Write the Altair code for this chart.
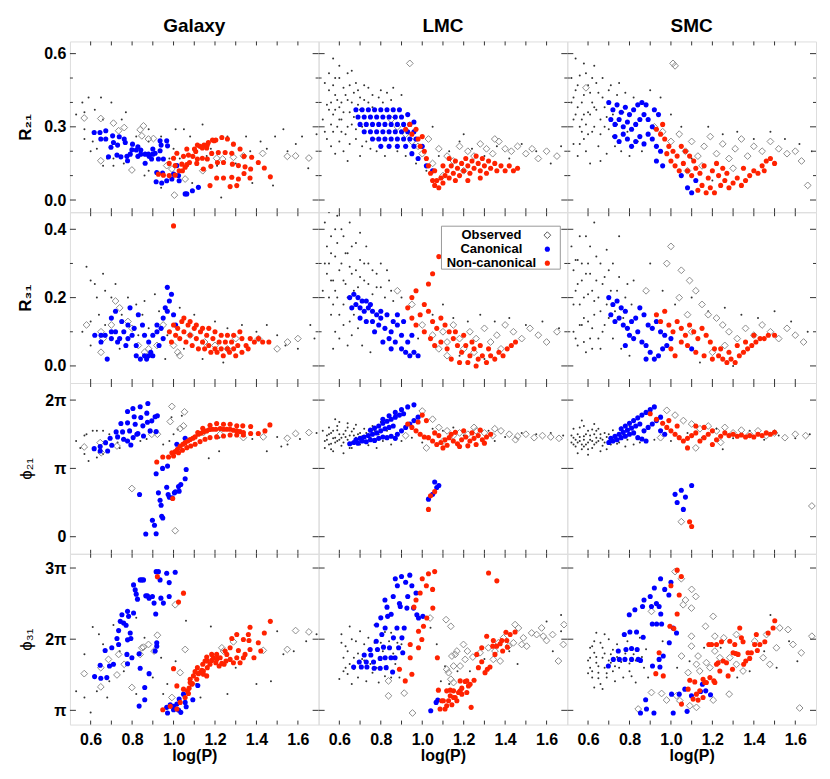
import altair as alt
import pandas as pd

FONT = "Liberation Sans"
W, H = 249, 171
COLS = ["Galaxy", "LMC", "SMC"]
Y_TITLES = ["R₂₁", "R₃₁", "ϕ₂₁", "ϕ₃₁"]
Y_DOMAINS = [[-0.05, 0.65], [-0.05, 0.45], [-0.25, 2.25], [0.8, 3.2]]
Y_MAJOR = [[0, 0.3, 0.6], [0, 0.2, 0.4], [0, 1, 2], [1, 2, 3]]
Y_MINOR = [[0.1, 0.2, 0.4, 0.5], [0.1, 0.3], [], []]
X_DOMAIN = [0.5, 1.7]
X_MAJOR = [0.6, 0.8, 1.0, 1.2, 1.4, 1.6]
X_MINOR = [0.7, 0.9, 1.1, 1.3, 1.5]
LEGEND_LABELS = ["Observed", "Canonical", "Non-canonical"]

# ---------------- Galaxy ----------------
GAL_R21_CAN = [(0.617,0.277),(0.645,0.277),(0.673,0.284),(0.649,0.250),(0.673,0.250),(0.706,0.263),(0.738,0.259),(0.710,0.236),(0.762,0.250),(0.767,0.236),(0.698,0.216),(0.730,0.225),(0.802,0.229),(0.828,0.218),(0.799,0.206),(0.820,0.205),(0.842,0.205),(0.791,0.188),(0.842,0.188),(0.863,0.188),(0.879,0.188),(0.900,0.188),(0.911,0.192),(0.935,0.243),(0.967,0.243),(0.940,0.225),(0.971,0.222),(0.900,0.209),(0.935,0.202),(0.686,0.177),(0.727,0.184),(0.746,0.177),(0.775,0.179),(0.778,0.161),(0.828,0.179),(0.863,0.151),(0.882,0.179),(0.894,0.168),(0.927,0.168),(0.951,0.168),(0.919,0.113),(0.947,0.111),(0.916,0.075),(0.943,0.070),(0.967,0.079),(0.992,0.086),(1.000,0.106),(1.024,0.100),(1.027,0.079),(1.056,0.025),(1.064,0.025),(1.091,0.038),(1.120,0.052),(1.016,0.141)]
GAL_R21_NON = [(1.000,0.171),(1.016,0.192),(1.048,0.179),(1.072,0.184),(1.093,0.179),(1.107,0.199),(1.128,0.220),(1.147,0.225),(1.163,0.226),(1.188,0.246),(1.204,0.246),(1.064,0.209),(1.101,0.209),(1.115,0.225),(1.139,0.213),(1.160,0.213),(1.168,0.236),(1.196,0.243),(1.233,0.256),(1.260,0.250),(1.289,0.229),(1.321,0.209),(0.979,0.150),(1.008,0.141),(1.040,0.147),(1.064,0.145),(1.077,0.154),(1.027,0.120),(1.043,0.120),(1.056,0.134),(0.927,0.106),(0.951,0.102),(0.979,0.100),(1.008,0.102),(1.115,0.168),(1.139,0.171),(1.163,0.168),(1.184,0.191),(1.216,0.195),(1.249,0.195),(1.281,0.192),(1.340,0.179),(1.377,0.175),(1.409,0.154),(1.438,0.131),(1.467,0.095),(1.372,0.127),(1.345,0.136),(1.313,0.141),(1.284,0.147),(1.241,0.154),(1.212,0.154),(1.180,0.138),(1.144,0.127),(1.112,0.150),(1.176,0.059),(1.208,0.090),(1.241,0.090),(1.281,0.093),(1.313,0.086),(1.340,0.109),(1.369,0.090),(1.273,0.055),(1.305,0.059)]
GAL_R21_OBS = [(0.569,0.336),(0.649,0.334),(0.710,0.315),(0.735,0.284),(0.762,0.297),(0.839,0.288),(0.855,0.304),(0.847,0.263),(0.879,0.250),(0.903,0.252),(0.649,0.161),(0.799,0.123),(1.004,0.020),(1.056,0.086),(1.141,0.120),(1.208,0.171),(1.237,0.168),(1.289,0.175),(1.337,0.181),(1.430,0.191),(1.549,0.179),(1.589,0.181),(1.653,0.172),(0.992,0.127),(0.967,0.141)]
GAL_R21_FLD = [(0.56,0.40),(0.59,0.42),(0.65,0.42),(0.70,0.40),(0.53,0.35),(0.57,0.36),(0.62,0.37),(0.66,0.33),(0.77,0.36),(0.57,0.29),(0.57,0.25),(0.61,0.24),(0.63,0.21),(0.68,0.17),(0.71,0.17),(0.75,0.33),(0.82,0.26),(0.88,0.29),(0.88,0.24),(0.94,0.26),(1.00,0.21),(1.01,0.29),(1.05,0.29),(1.03,0.17),(1.14,0.31),(1.16,0.18),(1.21,0.14),(1.26,0.26),(1.30,0.15),(1.35,0.26),(1.37,0.20),(1.42,0.24),(1.45,0.21),(1.49,0.26),(1.53,0.29),(1.55,0.20),(1.59,0.23),(1.62,0.26),(1.65,0.13),(1.69,0.27),(1.48,0.06),(1.23,0.01),(1.09,0.07),(0.94,0.05),(0.86,0.10),(0.76,0.15),(0.71,0.14),(0.66,0.14),(0.60,0.20),(0.88,0.12),(0.98,0.17),(1.18,0.21),(1.08,0.26),(1.38,0.07)]

GAL_R31_CAN = [(0.62,0.09),(0.65,0.09),(0.65,0.07),(0.67,0.09),(0.70,0.10),(0.70,0.08),(0.72,0.10),(0.73,0.07),(0.70,0.14),(0.72,0.16),(0.75,0.13),(0.76,0.10),(0.78,0.12),(0.74,0.08),(0.68,0.02),(0.77,0.06),(0.78,0.08),(0.80,0.09),(0.81,0.11),(0.79,0.17),(0.83,0.15),(0.85,0.12),(0.82,0.03),(0.84,0.02),(0.86,0.03),(0.87,0.02),(0.88,0.03),(0.89,0.04),(0.90,0.03),(0.82,0.06),(0.86,0.09),(0.88,0.07),(0.90,0.09),(0.92,0.12),(0.94,0.11),(0.95,0.14),(0.96,0.17),(0.97,0.23),(0.99,0.21),(0.98,0.19),(0.97,0.16),(1.00,0.15),(1.01,0.12),(0.95,0.08),(0.93,0.06),(0.92,0.10)]
GAL_R31_NON = [(1.00,0.41),(0.98,0.10),(1.00,0.12),(1.02,0.11),(1.04,0.13),(1.05,0.10),(1.07,0.12),(1.08,0.09),(1.10,0.11),(1.11,0.08),(1.13,0.10),(1.14,0.07),(1.16,0.09),(1.17,0.06),(1.19,0.08),(1.20,0.05),(1.22,0.07),(1.23,0.05),(1.25,0.07),(1.26,0.05),(1.28,0.07),(1.29,0.05),(1.31,0.06),(1.33,0.08),(1.35,0.06),(1.37,0.08),(1.39,0.07),(1.41,0.08),(1.43,0.07),(1.46,0.07),(1.03,0.08),(1.06,0.07),(1.09,0.06),(1.12,0.05),(1.15,0.05),(1.18,0.04),(1.21,0.04),(1.24,0.03),(1.27,0.04),(1.30,0.03),(1.33,0.04),(1.36,0.05),(1.05,0.14),(1.08,0.13),(1.11,0.12),(1.14,0.11),(1.17,0.11),(1.20,0.10),(1.23,0.09),(1.26,0.09),(1.29,0.09),(1.32,0.10),(1.01,0.09),(0.99,0.07)]
GAL_R31_OBS = [(0.58,0.12),(0.65,0.10),(0.66,0.08),(0.65,0.04),(0.70,0.12),(0.74,0.17),(0.78,0.13),(0.80,0.11),(0.83,0.06),(0.86,0.04),(0.88,0.05),(0.92,0.06),(0.95,0.12),(1.00,0.06),(1.02,0.04),(1.03,0.03),(1.08,0.09),(1.15,0.07),(1.20,0.06),(1.26,0.05),(1.30,0.08),(1.41,0.08),(1.55,0.07),(1.60,0.08),(1.50,0.05),(0.72,0.19)]
GAL_R31_FLD = [(0.58,0.29),(0.60,0.25),(0.62,0.24),(0.63,0.20),(0.66,0.27),(0.67,0.22),(0.70,0.20),(0.72,0.24),(0.56,0.10),(0.60,0.13),(0.64,0.15),(0.67,0.12),(0.60,0.06),(0.74,0.05),(0.78,0.20),(0.82,0.18),(0.85,0.15),(0.86,0.19),(0.88,0.11),(0.91,0.21),(0.93,0.16),(0.97,0.09),(1.03,0.17),(1.10,0.15),(1.14,0.02),(1.20,0.13),(1.26,0.11),(1.33,0.12),(1.40,0.10),(1.45,0.12),(1.50,0.09),(1.54,0.06),(1.60,0.05),(1.66,0.12),(1.68,0.08),(0.96,0.02),(1.24,0.01),(1.05,0.05),(0.75,0.15),(0.83,0.09)]

GAL_P21_CAN = [(0.617,1.289),(0.646,1.319),(0.672,1.377),(0.682,1.255),(0.646,1.255),(0.694,1.441),(0.702,1.338),(0.723,1.534),(0.730,1.461),(0.746,1.657),(0.754,1.534),(0.778,1.833),(0.778,1.667),(0.778,1.402),(0.788,1.549),(0.804,1.877),(0.810,1.755),(0.815,1.647),(0.839,1.902),(0.842,1.745),(0.852,1.623),(0.871,1.809),(0.874,1.676),(0.876,1.951),(0.887,1.549),(0.895,1.696),(0.911,1.755),(0.916,1.539),(0.922,1.770),(0.805,1.451),(0.823,1.500),(0.855,1.475),(0.759,1.426),(0.794,1.343),(0.828,1.510),(0.916,0.922),(0.947,1.000),(0.971,1.034),(1.061,0.985),(0.836,0.618),(0.927,0.642),(0.935,0.534),(0.940,0.461),(0.967,0.725),(0.974,0.618),(0.980,0.578),(0.993,0.569),(1.004,0.642),(1.009,0.657),(1.027,0.667),(1.024,0.735),(1.035,0.765),(1.056,0.848),(0.898,0.240),(0.908,0.167),(0.866,0.039),(0.916,0.044),(0.943,0.299),(0.948,0.275),(1.056,1.441),(1.016,1.353)]
GAL_P21_NON = [(0.919,1.093),(0.948,1.167),(0.976,1.167),(0.992,1.230),(1.008,1.245),(1.019,1.279),(1.032,1.324),(1.045,1.353),(1.056,1.377),(1.069,1.402),(1.080,1.422),(1.093,1.441),(1.104,1.461),(1.120,1.500),(1.131,1.515),(1.144,1.534),(1.160,1.549),(1.173,1.569),(1.188,1.574),(1.204,1.574),(1.225,1.583),(1.241,1.574),(1.257,1.574),(1.273,1.574),(1.289,1.559),(1.305,1.549),(1.321,1.539),(1.337,1.525),(1.372,1.510),(1.409,1.510),(1.441,1.549),(1.465,1.637),(1.117,1.525),(1.141,1.588),(1.176,1.632),(1.208,1.657),(1.241,1.647),(1.273,1.647),(1.305,1.623),(1.334,1.623),(1.372,1.613),(1.000,1.181),(1.024,1.230),(1.043,1.265),(1.064,1.304),(1.083,1.328),(1.104,1.353),(1.128,1.392),(1.152,1.426),(1.176,1.451),(1.208,1.461),(1.241,1.475),(1.273,1.490),(1.305,1.490),(1.337,1.490),(0.996,0.559)]
GAL_P21_OBS = [(0.569,1.314),(0.651,1.230),(0.727,1.328),(0.799,0.706),(0.895,1.500),(0.922,1.500),(0.992,1.907),(0.984,1.686),(1.053,1.828),(1.032,1.583),(1.048,1.623),(1.008,0.088),(1.337,1.451),(1.433,1.461),(1.549,1.441),(1.589,1.510),(1.653,1.525),(1.144,1.525),(1.225,1.500),(0.646,1.377)]
GAL_P21_FLD = [(0.53,1.40),(0.57,1.48),(0.58,1.50),(0.61,1.55),(0.63,1.55),(0.66,1.55),(0.69,1.50),(0.59,1.11),(0.63,1.16),(0.66,1.21),(0.57,1.21),(0.55,1.30),(0.73,1.38),(0.74,1.30),(0.98,1.40),(1.00,1.50),(1.02,1.57),(1.17,1.15),(1.22,1.25),(1.45,1.25),(1.50,1.46),(1.52,1.32),(1.55,1.35),(1.61,1.43),(1.69,1.52),(0.99,1.75),(1.04,1.77),(0.84,1.40),(0.87,1.43),(0.95,1.35),(1.22,1.45),(1.30,1.48),(1.38,1.43)]

GAL_P31_CAN = [(0.619,1.474),(0.646,1.633),(0.649,1.451),(0.678,1.460),(0.670,1.842),(0.702,1.879),(0.691,1.623),(0.710,1.647),(0.727,2.009),(0.735,1.926),(0.735,2.121),(0.743,2.251),(0.751,2.344),(0.759,2.228),(0.771,2.195),(0.778,2.391),(0.783,2.321),(0.791,2.088),(0.794,2.009),(0.799,1.740),(0.807,2.367),(0.778,1.656),(0.775,1.786),(0.778,1.991),(0.807,2.763),(0.815,2.693),(0.820,2.633),(0.826,2.563),(0.839,2.833),(0.847,2.833),(0.855,2.833),(0.866,2.609),(0.874,2.609),(0.882,2.577),(0.898,2.600),(0.906,2.507),(0.919,1.902),(0.919,1.949),(0.914,2.353),(0.834,1.795),(0.839,1.591),(0.861,1.321),(0.861,1.149),(0.834,1.060),(0.882,1.516),(0.911,1.833),(0.916,2.949),(0.927,2.949),(0.935,2.833),(0.967,2.926),(0.979,2.795),(1.008,2.940),(0.939,2.577),(0.951,2.507),(0.979,2.600),(0.967,1.042),(0.971,0.963),(1.000,1.056),(1.000,1.009),(1.027,1.158),(1.035,0.972),(1.056,1.112),(1.061,1.051),(1.024,1.005),(1.117,1.349),(1.093,1.149),(1.048,1.228),(0.984,1.079),(1.016,1.088)]
GAL_P31_NON = [(0.922,2.879),(1.024,2.521),(1.048,2.647),(1.000,1.586),(1.016,1.344),(1.048,1.298),(1.067,1.274),(0.948,1.009),(0.984,1.056),(1.016,1.019),(1.032,1.112),(1.056,1.181),(1.072,1.237),(1.080,1.391),(1.091,1.377),(1.080,1.437),(1.096,1.484),(1.112,1.437),(1.120,1.516),(1.128,1.530),(1.136,1.563),(1.144,1.553),(1.152,1.693),(1.163,1.600),(1.176,1.647),(1.184,1.702),(1.192,1.740),(1.204,1.670),(1.208,1.716),(1.220,1.623),(1.233,1.660),(1.244,1.647),(1.253,1.693),(1.273,1.716),(1.289,1.670),(1.305,1.740),(1.321,1.670),(1.337,1.740),(1.345,1.786),(1.369,1.856),(1.364,1.981),(1.369,2.167),(1.361,2.065),(1.337,1.995),(1.305,2.065),(1.313,1.842),(1.281,2.009),(1.273,1.879),(1.257,1.786),(1.249,1.833),(1.225,1.740),(1.208,1.786),(1.184,1.786),(1.160,1.749),(1.141,1.647),(1.115,1.600),(1.104,1.544),(1.388,1.740),(1.409,1.949),(1.421,1.833),(1.438,2.088),(1.467,2.251),(1.088,1.367),(1.075,1.312),(1.144,1.507),(1.160,1.484),(1.163,1.693)]
GAL_P31_OBS = [(0.569,1.516),(0.649,1.600),(0.649,1.330),(0.686,1.716),(0.727,1.498),(0.735,1.786),(0.762,1.647),(0.799,1.321),(0.839,1.786),(0.847,1.879),(0.855,1.888),(0.879,1.926),(0.906,1.833),(0.922,2.056),(0.992,1.181),(1.008,2.484),(1.032,1.530),(1.056,1.856),(1.233,1.879),(1.289,1.963),(1.433,1.842),(1.549,1.856),(1.589,2.121),(1.653,2.102),(1.241,1.833)]
GAL_P31_FLD = [(0.53,1.27),(0.57,1.18),(0.60,0.97),(0.57,1.79),(0.61,2.17),(0.64,2.07),(0.66,1.93),(0.69,1.41),(0.71,2.20),(0.74,1.83),(0.76,1.55),(0.82,2.30),(0.86,2.02),(0.90,1.46),(0.94,1.74),(0.97,1.37),(1.01,1.69),(1.06,2.26),(1.11,1.37),(1.18,2.18),(1.21,1.79),(1.26,1.23),(1.30,1.60),(1.40,1.37),(1.47,1.41),(1.50,2.11),(1.53,1.79),(1.58,1.83),(1.69,2.07),(1.64,1.97),(0.95,1.23),(1.13,1.18),(0.63,1.27),(0.68,1.18),(0.82,1.23)]

# ---------------- LMC ----------------
LMC_R21_CAN = [(0.68,0.37),(0.71,0.37),(0.74,0.37),(0.77,0.37),(0.80,0.37),(0.83,0.37),(0.86,0.37),(0.89,0.37),(0.69,0.34),(0.72,0.34),(0.75,0.34),(0.78,0.34),(0.81,0.34),(0.84,0.34),(0.87,0.34),(0.90,0.34),(0.93,0.35),(0.70,0.31),(0.73,0.31),(0.76,0.31),(0.79,0.31),(0.82,0.31),(0.85,0.31),(0.88,0.31),(0.91,0.31),(0.94,0.31),(0.96,0.32),(0.72,0.28),(0.75,0.28),(0.78,0.28),(0.81,0.28),(0.84,0.28),(0.87,0.28),(0.90,0.28),(0.93,0.28),(0.96,0.28),(0.76,0.25),(0.79,0.25),(0.82,0.25),(0.85,0.25),(0.88,0.25),(0.91,0.25),(0.94,0.25),(0.97,0.25),(0.80,0.22),(0.84,0.22),(0.88,0.22),(0.92,0.22),(0.96,0.22),(1.00,0.22),(0.95,0.19),(0.98,0.17),(1.02,0.14),(1.05,0.12)]
LMC_R21_NON = [(0.92,0.29),(0.94,0.31),(0.95,0.27),(0.97,0.29),(0.98,0.25),(1.00,0.26),(0.99,0.22),(1.01,0.20),(1.02,0.17),(1.03,0.14),(1.04,0.11),(1.05,0.08),(1.06,0.06),(1.07,0.08),(1.08,0.05),(1.09,0.09),(1.10,0.07),(1.11,0.10),(1.12,0.12),(1.13,0.09),(1.14,0.14),(1.15,0.11),(1.16,0.16),(1.17,0.13),(1.18,0.10),(1.19,0.15),(1.20,0.12),(1.21,0.17),(1.22,0.14),(1.23,0.11),(1.24,0.16),(1.25,0.13),(1.26,0.18),(1.27,0.15),(1.28,0.12),(1.29,0.17),(1.30,0.14),(1.31,0.11),(1.32,0.16),(1.33,0.13),(1.35,0.15),(1.36,0.12),(1.38,0.14),(1.40,0.12),(1.42,0.14),(1.44,0.12),(1.46,0.13),(1.10,0.14),(1.13,0.17),(1.06,0.12),(1.16,0.08),(1.22,0.08),(1.28,0.09)]
LMC_R21_OBS = [(0.94,0.56),(0.85,0.33),(0.88,0.30),(0.92,0.27),(0.95,0.24),(0.98,0.22),(1.00,0.19),(1.03,0.25),(1.08,0.21),(1.12,0.18),(1.15,0.16),(1.18,0.22),(1.22,0.20),(1.25,0.18),(1.28,0.23),(1.31,0.21),(1.34,0.19),(1.37,0.24),(1.40,0.21),(1.43,0.20),(1.46,0.22),(1.50,0.19),(1.53,0.21),(1.56,0.17),(1.60,0.20),(1.65,0.18),(1.20,0.12),(1.10,0.10),(1.05,0.15),(1.35,0.25)]
LMC_R21_FLD = [(0.53,0.48),(0.55,0.45),(0.56,0.40),(0.57,0.35),(0.58,0.43),(0.59,0.30),(0.60,0.38),(0.61,0.33),(0.62,0.46),(0.63,0.27),(0.64,0.41),(0.65,0.36),(0.66,0.31),(0.67,0.44),(0.68,0.25),(0.69,0.39),(0.70,0.42),(0.71,0.22),(0.72,0.47),(0.74,0.40),(0.76,0.43),(0.78,0.20),(0.80,0.45),(0.82,0.18),(0.85,0.41),(0.88,0.20),(0.54,0.25),(0.56,0.22),(0.58,0.19),(0.60,0.24),(0.62,0.20),(0.55,0.52),(0.60,0.50),(0.57,0.28),(0.65,0.23),(0.70,0.18),(0.75,0.21),(0.92,0.18),(0.97,0.15),(1.02,0.12),(1.08,0.18),(1.13,0.20),(1.18,0.24),(1.24,0.21),(1.30,0.18),(1.36,0.22),(1.42,0.17),(1.48,0.23),(1.55,0.20),(1.62,0.15),(1.67,0.22),(1.05,0.30),(1.20,0.27),(0.66,0.53),(0.52,0.33),(0.64,0.16),
               (0.54,0.39),(0.56,0.31),(0.57,0.47),(0.58,0.37),(0.59,0.41),(0.60,0.33),(0.61,0.28),(0.62,0.36),(0.63,0.43),(0.64,0.30),(0.65,0.47),(0.66,0.40),(0.67,0.34),(0.68,0.29),(0.69,0.45),(0.70,0.37),(0.71,0.30),(0.72,0.41),(0.73,0.24),(0.74,0.46),(0.76,0.38),(0.77,0.25),(0.79,0.42),(0.81,0.40),(0.83,0.44),(0.86,0.46),(0.53,0.28),(0.55,0.37),(0.58,0.50),(0.61,0.40),(0.64,0.52),(0.68,0.48),(0.90,0.43),(0.60,0.55),(0.57,0.58)]

LMC_R31_CAN = [(0.65,0.20),(0.67,0.21),(0.69,0.20),(0.71,0.19),(0.73,0.19),(0.75,0.18),(0.66,0.17),(0.68,0.18),(0.70,0.17),(0.72,0.16),(0.74,0.17),(0.76,0.16),(0.78,0.15),(0.80,0.14),(0.70,0.14),(0.73,0.13),(0.76,0.13),(0.79,0.12),(0.82,0.11),(0.85,0.10),(0.80,0.16),(0.83,0.15),(0.86,0.13),(0.88,0.12),(0.90,0.09),(0.84,0.08),(0.87,0.07),(0.90,0.05),(0.92,0.04),(0.94,0.03),(0.96,0.04),(0.98,0.03),(0.93,0.07),(0.95,0.09),(0.88,0.15),(0.91,0.13),(0.77,0.10),(0.81,0.07),(0.85,0.05)]
LMC_R31_NON = [(1.08,0.32),(1.05,0.27),(1.03,0.24),(0.97,0.22),(0.95,0.20),(0.93,0.17),(0.95,0.14),(0.97,0.12),(0.99,0.15),(1.01,0.18),(1.03,0.16),(1.05,0.13),(1.07,0.11),(1.09,0.14),(1.11,0.12),(1.13,0.10),(1.01,0.10),(1.04,0.08),(1.06,0.06),(1.09,0.07),(1.12,0.05),(1.15,0.08),(1.17,0.06),(1.19,0.04),(1.21,0.06),(1.23,0.03),(1.25,0.05),(1.27,0.02),(1.29,0.03),(1.31,0.01),(1.33,0.03),(1.35,0.02),(1.37,0.04),(1.39,0.03),(1.41,0.05),(1.43,0.06),(1.45,0.07),(1.14,0.02),(1.18,0.01),(1.22,0.01),(1.26,0.00),(1.16,0.10),(1.20,0.09),(1.24,0.07),(1.28,0.06),(1.32,0.05)]
LMC_R31_OBS = [(0.88,0.22),(0.95,0.18),(1.00,0.12),(1.05,0.09),(1.08,0.05),(1.10,0.10),(1.12,0.07),(1.15,0.12),(1.18,0.08),(1.20,0.05),(1.23,0.10),(1.26,0.08),(1.30,0.11),(1.33,0.07),(1.36,0.09),(1.40,0.12),(1.44,0.10),(1.48,0.08),(1.52,0.11),(1.56,0.09),(1.60,0.07),(1.65,0.10),(1.12,0.03),(1.25,0.04),(1.38,0.05)]
LMC_R31_FLD = [(0.53,0.42),(0.54,0.35),(0.55,0.30),(0.56,0.38),(0.57,0.25),(0.58,0.32),(0.59,0.20),(0.60,0.28),(0.61,0.40),(0.62,0.18),(0.63,0.24),(0.64,0.33),(0.65,0.13),(0.66,0.27),(0.67,0.22),(0.68,0.36),(0.69,0.11),(0.70,0.26),(0.72,0.30),(0.74,0.24),(0.76,0.21),(0.78,0.27),(0.80,0.23),(0.82,0.20),(0.84,0.25),(0.86,0.19),(0.56,0.15),(0.58,0.10),(0.60,0.08),(0.62,0.12),(0.64,0.06),(0.66,0.09),(0.55,0.45),(0.59,0.44),(0.71,0.06),(0.75,0.04),(0.90,0.20),(0.98,0.08),(1.05,0.15),(1.10,0.18),(1.15,0.14),(1.22,0.13),(1.28,0.15),(1.35,0.13),(1.42,0.14),(1.50,0.12),(1.58,0.13),(1.66,0.11),(1.18,0.03),(1.30,0.02),(0.52,0.22),(0.57,0.05),
               (0.54,0.27),(0.55,0.20),(0.56,0.33),(0.57,0.18),(0.58,0.22),(0.59,0.36),(0.60,0.15),(0.61,0.30),(0.62,0.25),(0.63,0.33),(0.64,0.20),(0.65,0.29),(0.66,0.35),(0.67,0.15),(0.68,0.28),(0.69,0.23),(0.70,0.31),(0.71,0.19),(0.72,0.25),(0.73,0.35),(0.74,0.30),(0.76,0.28),(0.78,0.23),(0.80,0.30),(0.83,0.28),(0.85,0.22),(0.62,0.38),(0.65,0.42),(0.58,0.40),(0.70,0.39),(0.53,0.30),(0.56,0.25)]

LMC_P21_CAN = [(0.65,1.36),(0.67,1.38),(0.69,1.37),(0.71,1.40),(0.73,1.39),(0.75,1.42),(0.77,1.41),(0.79,1.44),(0.81,1.46),(0.83,1.45),(0.68,1.42),(0.70,1.44),(0.72,1.46),(0.74,1.48),(0.76,1.50),(0.78,1.52),(0.80,1.55),(0.82,1.58),(0.84,1.60),(0.86,1.62),(0.75,1.56),(0.77,1.59),(0.79,1.62),(0.81,1.66),(0.83,1.69),(0.85,1.72),(0.87,1.75),(0.89,1.78),(0.91,1.80),(0.81,1.72),(0.84,1.77),(0.87,1.82),(0.90,1.86),(0.93,1.90),(0.96,1.93),(0.88,1.50),(0.90,1.55),(0.92,1.60),(0.94,1.65),(0.96,1.70),(0.98,1.75),(0.85,1.47),(0.87,1.44),(1.06,0.80),(1.07,0.72),(1.05,0.62),(1.03,0.55),(1.08,0.75)]
LMC_P21_NON = [(0.93,1.65),(0.95,1.60),(0.97,1.55),(0.99,1.50),(1.01,1.46),(1.03,1.45),(1.05,1.40),(1.00,1.78),(1.02,1.70),(0.98,1.68),(1.07,1.35),(1.09,1.38),(1.11,1.42),(1.13,1.45),(1.15,1.40),(1.17,1.36),(1.19,1.42),(1.21,1.46),(1.23,1.40),(1.25,1.44),(1.27,1.48),(1.29,1.42),(1.31,1.46),(1.33,1.50),(1.10,1.30),(1.12,1.34),(1.14,1.50),(1.16,1.53),(1.18,1.32),(1.20,1.55),(1.22,1.33),(1.24,1.52),(1.26,1.35),(1.28,1.56),(1.30,1.37),(1.08,1.48),(1.06,1.52),(1.03,0.40),(1.04,0.60),(1.06,0.66)]
LMC_P21_OBS = [(1.00,1.84),(1.02,1.30),(1.05,1.72),(1.08,1.60),(1.12,1.55),(1.15,1.48),(1.18,1.52),(1.22,1.50),(1.26,1.55),(1.30,1.52),(1.34,1.48),(1.38,1.55),(1.42,1.50),(1.46,1.47),(1.50,1.50),(1.54,1.45),(1.58,1.48),(1.62,1.46),(1.66,1.44),(1.25,1.60),(1.35,1.58),(1.45,1.42),(1.10,1.40),(0.92,1.48)]
LMC_P21_FLD = [(0.53,1.40),(0.54,1.48),(0.55,1.35),(0.56,1.52),(0.57,1.44),(0.58,1.38),(0.59,1.56),(0.60,1.42),(0.61,1.33),(0.62,1.50),(0.63,1.46),(0.64,1.60),(0.65,1.30),(0.66,1.54),(0.67,1.48),(0.68,1.64),(0.70,1.52),(0.72,1.58),(0.74,1.34),(0.76,1.62),(0.78,1.30),(0.80,1.68),(0.55,1.60),(0.57,1.25),(0.60,1.68),(0.62,1.22),(0.52,1.55),(0.58,1.72),(0.90,1.40),(0.95,1.45),(1.00,1.38),(1.05,1.58),(1.10,1.55),(1.15,1.60),(1.20,1.48),(1.25,1.45),(1.32,1.55),(1.40,1.46),(1.48,1.52),(1.55,1.50),(1.62,1.52),(1.68,1.48),(1.35,1.40),(0.85,1.35),
               (0.54,1.42),(0.55,1.50),(0.56,1.36),(0.57,1.55),(0.58,1.45),(0.59,1.40),(0.60,1.50),(0.61,1.45),(0.62,1.38),(0.63,1.55),(0.64,1.42),(0.65,1.48),(0.66,1.38),(0.67,1.58),(0.68,1.45),(0.69,1.50),(0.70,1.35),(0.71,1.47),(0.72,1.40),(0.73,1.52),(0.75,1.45),(0.77,1.55),(0.79,1.50),(0.81,1.40),(0.83,1.55),(0.53,1.30),(0.56,1.28),(0.59,1.62),(0.64,1.66),(0.66,1.30)]

LMC_P31_CAN = [(0.669,1.609),(0.696,1.679),(0.706,1.609),(0.720,1.777),(0.733,1.609),(0.730,1.679),(0.749,1.856),(0.752,1.777),(0.765,1.679),(0.768,1.591),(0.778,1.972),(0.784,1.856),(0.797,1.730),(0.797,1.591),(0.805,2.065),(0.813,1.888),(0.821,1.740),(0.826,1.600),(0.821,2.158),(0.842,1.879),(0.849,1.740),(0.857,1.540),(0.833,2.321),(0.861,2.019),(0.869,1.740),(0.878,2.158),(0.886,1.879),(0.894,2.460),(0.902,2.019),(0.906,1.809),(0.913,2.158),(0.926,2.437),(0.958,2.437),(0.974,2.344),(0.982,2.298),(1.003,2.321),(1.041,0.995),(1.067,1.112),(1.075,1.144),(0.80,2.30),(0.83,2.45),(0.86,2.60),(0.88,2.75),(0.90,2.88),(0.92,2.80),(0.95,2.75),(0.97,2.65),(0.85,2.35),(0.89,2.50),(0.93,2.60),(0.78,2.20),(0.94,2.90),(0.82,2.55),(0.87,2.85)]
LMC_P31_NON = [(0.890,1.577),(0.918,1.414),(0.942,1.926),(0.942,1.740),(0.950,1.507),(0.982,1.879),(0.982,2.112),(0.998,1.995),(1.006,2.181),(1.022,2.298),(1.051,2.437),(1.073,1.740),(1.078,1.284),(1.086,1.019),(1.102,1.135),(1.110,1.019),(1.118,1.065),(1.127,1.135),(1.135,1.284),(1.135,1.205),(1.143,1.079),(1.151,1.181),(1.159,1.181),(1.167,1.135),(1.175,1.251),(1.183,1.274),(1.191,1.312),(1.207,1.405),(1.215,1.251),(1.223,1.344),(1.231,1.367),(1.236,1.042),(1.250,1.423),(1.263,1.786),(1.271,1.600),(1.287,1.879),(1.287,1.684),(1.303,1.530),(1.314,1.577),(1.327,1.609),(1.311,2.042),(1.340,1.902),(1.351,1.786),(1.343,1.981),(1.359,1.902),(1.376,1.935),(1.384,1.981),(1.388,1.833),(1.404,2.098),(1.408,1.981),(1.411,1.888),(1.424,2.065),(1.448,2.102),(1.151,1.274),(1.183,1.414),(1.118,1.274),(1.094,1.135),(1.191,1.228),(1.215,1.414),(1.00,2.85),(1.03,2.92),(1.06,2.95),(1.02,2.75),(0.99,2.65),(0.97,2.55),(1.05,2.70),(1.32,2.93),(1.36,2.82),(0.96,2.45)]
LMC_P31_OBS = [(0.837,1.414),(0.837,1.205),(0.913,1.242),(0.953,0.963),(1.115,2.274),(1.138,2.181),(1.038,2.298),(1.118,1.577),(1.127,1.530),(1.138,1.437),(1.151,1.623),(1.143,1.763),(1.159,1.786),(1.167,1.833),(1.199,1.926),(1.218,1.833),(1.244,1.749),(1.279,1.809),(1.319,1.879),(1.351,1.833),(1.367,1.949),(1.392,2.019),(1.416,1.902),(1.448,2.205),(1.464,2.158),(1.488,2.019),(1.504,1.902),(1.528,2.088),(1.552,2.065),(1.576,2.158),(1.584,2.042),(1.600,1.981),(1.629,2.065),(1.657,1.693),(1.684,2.205),(1.681,1.926),(1.151,1.391),(1.183,1.623),(1.207,1.716),(1.343,1.716),(1.376,1.693),(1.440,1.949),(1.480,1.926)]
LMC_P31_FLD = [(0.60,1.44),(0.61,2.07),(0.63,1.60),(0.64,1.83),(0.65,2.18),(0.66,1.37),(0.68,1.97),(0.69,1.46),(0.70,2.11),(0.72,1.93),(0.73,1.41),(0.74,2.02),(0.76,1.53),(0.77,2.20),(0.79,1.39),(0.81,1.83),(0.82,1.48),(0.84,1.97),(0.85,2.09),(0.87,1.65),(0.89,1.46),(0.90,1.93),(0.62,1.74),(0.67,1.74),(0.64,1.51),(0.71,1.72),(0.80,1.95),(0.85,1.46),(1.09,1.41),(1.11,1.62),(1.13,1.37),(1.17,1.55),(1.23,1.55),(1.30,1.72),(1.42,1.83),(1.46,1.65),(1.60,2.25),(1.63,1.83),(1.67,2.34),(1.67,2.11),(1.04,2.16),(1.07,1.93),
               (0.62,1.55),(0.63,1.90),(0.65,1.65),(0.66,2.00),(0.67,1.58),(0.69,1.80),(0.70,1.62),(0.72,1.70),(0.74,1.85),(0.75,1.65),(0.77,1.95),(0.78,1.60),(0.80,1.72),(0.82,2.10),(0.83,1.62),(0.86,1.80),(0.88,1.95),(0.61,1.95)]

# ---------------- SMC ----------------
SMC_R21_CAN = [(0.70,0.40),(0.72,0.37),(0.74,0.39),(0.76,0.36),(0.78,0.38),(0.80,0.35),(0.82,0.37),(0.84,0.39),(0.86,0.40),(0.88,0.39),(0.71,0.33),(0.73,0.31),(0.75,0.33),(0.77,0.30),(0.79,0.32),(0.81,0.29),(0.83,0.31),(0.85,0.33),(0.87,0.35),(0.89,0.33),(0.91,0.30),(0.73,0.26),(0.75,0.24),(0.77,0.27),(0.79,0.25),(0.81,0.22),(0.83,0.24),(0.85,0.26),(0.87,0.23),(0.89,0.27),(0.91,0.25),(0.93,0.22),(0.95,0.20),(0.92,0.37),(0.94,0.35),(0.93,0.16),(0.96,0.14),(1.08,0.05),(1.10,0.03),(1.05,0.10),(1.12,0.08)]
SMC_R21_NON = [(0.93,0.29),(0.95,0.27),(0.97,0.25),(0.99,0.22),(1.01,0.20),(1.03,0.18),(0.96,0.31),(0.98,0.19),(1.00,0.16),(1.02,0.14),(1.04,0.12),(1.06,0.15),(1.08,0.12),(1.10,0.10),(1.12,0.13),(1.14,0.11),(1.16,0.14),(1.18,0.09),(1.20,0.12),(1.22,0.15),(1.24,0.06),(1.26,0.08),(1.28,0.05),(1.30,0.07),(1.32,0.09),(1.34,0.06),(1.36,0.08),(1.38,0.10),(1.40,0.12),(1.42,0.11),(1.44,0.14),(1.46,0.16),(1.48,0.17),(1.50,0.15),(1.05,0.22),(1.07,0.20),(1.09,0.18),(1.11,0.16),(1.13,0.04),(1.15,0.06),(1.17,0.03),(1.19,0.05),(1.21,0.03),(1.23,0.10),(1.25,0.13),(1.27,0.11),(1.35,0.13),(1.45,0.12)]
SMC_R21_OBS = [(1.01,0.56),(1.02,0.55),(0.59,0.46),(0.92,0.30),(0.96,0.28),(1.00,0.24),(1.04,0.27),(1.07,0.20),(1.10,0.24),(1.13,0.18),(1.16,0.22),(1.19,0.26),(1.22,0.19),(1.25,0.23),(1.28,0.17),(1.31,0.21),(1.34,0.25),(1.37,0.18),(1.40,0.22),(1.44,0.20),(1.48,0.24),(1.52,0.21),(1.56,0.19),(1.60,0.20),(1.63,0.16),(1.66,0.06),(1.08,0.12),(1.15,0.14),(1.30,0.13)]
SMC_R21_FLD = [(0.52,0.50),(0.53,0.42),(0.54,0.35),(0.55,0.47),(0.56,0.30),(0.57,0.40),(0.58,0.25),(0.59,0.52),(0.60,0.36),(0.61,0.44),(0.62,0.28),(0.63,0.38),(0.64,0.48),(0.65,0.22),(0.66,0.33),(0.67,0.42),(0.68,0.30),(0.70,0.45),(0.72,0.26),(0.74,0.43),(0.76,0.20),(0.78,0.44),(0.80,0.18),(0.53,0.23),(0.55,0.18),(0.57,0.33),(0.59,0.20),(0.61,0.15),(0.63,0.55),(0.66,0.16),(0.69,0.19),(0.86,0.20),(0.90,0.45),(0.95,0.42),(1.00,0.35),(1.05,0.30),(1.10,0.17),(1.18,0.30),(1.25,0.27),(1.32,0.28),(1.40,0.25),(1.48,0.28),(1.55,0.25),(1.62,0.23),(1.68,0.20),(1.20,0.08),(0.54,0.58),(0.58,0.56),
               (0.53,0.33),(0.54,0.45),(0.55,0.38),(0.56,0.51),(0.57,0.28),(0.58,0.43),(0.59,0.31),(0.60,0.47),(0.61,0.35),(0.62,0.40),(0.63,0.30),(0.64,0.37),(0.65,0.44),(0.66,0.27),(0.67,0.50),(0.68,0.38),(0.69,0.34),(0.70,0.29),(0.71,0.47),(0.72,0.35),(0.73,0.22),(0.74,0.31),(0.75,0.48),(0.77,0.36),(0.79,0.28),(0.82,0.42),(0.84,0.24),(0.56,0.23),(0.60,0.27),(0.62,0.50),(0.52,0.40),(0.58,0.35)]

SMC_R31_CAN = [(0.70,0.20),(0.72,0.18),(0.74,0.19),(0.76,0.17),(0.78,0.16),(0.71,0.15),(0.73,0.13),(0.75,0.14),(0.77,0.12),(0.79,0.11),(0.81,0.13),(0.83,0.14),(0.80,0.09),(0.82,0.08),(0.84,0.10),(0.86,0.07),(0.88,0.06),(0.85,0.17),(0.87,0.15),(0.89,0.12),(0.91,0.11),(0.93,0.13),(0.95,0.10),(0.97,0.09),(0.90,0.04),(0.92,0.02),(0.94,0.03),(0.96,0.05),(0.98,0.06),(0.88,0.02),(0.78,0.06),(1.00,0.08),(1.10,0.05)]
SMC_R31_NON = [(0.93,0.15),(0.95,0.13),(0.97,0.16),(0.99,0.12),(1.01,0.10),(1.03,0.13),(1.05,0.11),(1.07,0.09),(1.09,0.12),(1.11,0.10),(1.13,0.08),(1.15,0.11),(1.17,0.09),(1.19,0.07),(1.21,0.05),(1.23,0.03),(1.25,0.02),(1.27,0.01),(1.29,0.02),(1.31,0.01),(1.33,0.03),(1.35,0.04),(1.37,0.05),(1.39,0.06),(1.41,0.07),(1.43,0.08),(1.45,0.08),(1.47,0.09),(1.50,0.09),(1.12,0.04),(1.16,0.03),(1.20,0.02),(1.24,0.05),(1.28,0.04),(1.32,0.06),(1.36,0.07),(1.40,0.09),(1.08,0.06),(1.05,0.07),(1.00,0.05),(1.02,0.03)]
SMC_R31_OBS = [(0.98,0.30),(1.05,0.28),(1.09,0.25),(1.12,0.22),(1.04,0.20),(1.15,0.18),(1.18,0.15),(1.22,0.14),(1.25,0.12),(1.10,0.10),(1.28,0.10),(1.32,0.08),(1.36,0.11),(1.40,0.09),(1.44,0.12),(1.48,0.10),(1.52,0.08),(1.56,0.11),(1.60,0.09),(1.64,0.07),(1.20,0.04),(1.26,0.06),(1.08,0.15),(0.88,0.22),(1.00,0.35)]
SMC_R31_FLD = [(0.52,0.35),(0.53,0.28),(0.54,0.22),(0.55,0.31),(0.56,0.18),(0.57,0.25),(0.58,0.14),(0.59,0.38),(0.60,0.21),(0.61,0.27),(0.62,0.11),(0.63,0.19),(0.64,0.32),(0.65,0.08),(0.66,0.16),(0.67,0.24),(0.68,0.12),(0.70,0.28),(0.72,0.08),(0.74,0.22),(0.76,0.05),(0.78,0.20),(0.80,0.03),(0.53,0.10),(0.55,0.06),(0.57,0.12),(0.59,0.04),(0.61,0.08),(0.63,0.42),(0.60,0.30),(0.69,0.34),(0.82,0.25),(0.90,0.30),(0.96,0.22),(1.02,0.18),(1.10,0.20),(1.18,0.16),(1.26,0.17),(1.34,0.15),(1.42,0.14),(1.50,0.16),(1.58,0.13),(1.66,0.10),(1.14,0.01),(1.30,0.00),(0.75,0.38),
               (0.53,0.18),(0.54,0.31),(0.55,0.24),(0.56,0.12),(0.57,0.30),(0.58,0.20),(0.59,0.27),(0.60,0.13),(0.61,0.35),(0.62,0.22),(0.63,0.15),(0.64,0.25),(0.65,0.20),(0.66,0.30),(0.67,0.10),(0.68,0.26),(0.69,0.18),(0.70,0.14),(0.71,0.22),(0.72,0.30),(0.73,0.16),(0.75,0.26),(0.77,0.14),(0.79,0.24),(0.81,0.18),(0.54,0.08),(0.58,0.07),(0.62,0.05),(0.66,0.05),(0.56,0.38)]

SMC_P21_CAN = [(0.70,1.38),(0.72,1.40),(0.74,1.42),(0.76,1.45),(0.78,1.47),(0.80,1.50),(0.82,1.52),(0.71,1.44),(0.73,1.47),(0.75,1.50),(0.77,1.53),(0.79,1.56),(0.81,1.59),(0.83,1.62),(0.85,1.65),(0.76,1.58),(0.78,1.62),(0.80,1.66),(0.82,1.70),(0.84,1.74),(0.86,1.78),(0.88,1.82),(0.90,1.86),(0.92,1.90),(0.87,1.55),(0.89,1.60),(0.91,1.65),(0.93,1.70),(0.95,1.75),(0.84,1.45),(0.86,1.43),(0.88,1.40),(0.95,1.55),(0.97,1.50),(1.02,0.62),(1.05,0.68),(1.07,0.58),(1.10,0.75),(1.03,0.50),(1.06,0.40)]
SMC_P21_NON = [(0.90,1.80),(0.93,1.72),(0.96,1.66),(0.98,1.60),(1.00,1.55),(1.02,1.50),(1.04,1.45),(0.99,1.70),(1.03,1.62),(1.06,1.40),(1.08,1.44),(1.10,1.48),(1.12,1.52),(1.14,1.40),(1.16,1.45),(1.18,1.50),(1.20,1.55),(1.22,1.42),(1.24,1.47),(1.26,1.52),(1.28,1.48),(1.30,1.50),(1.32,1.47),(1.34,1.49),(1.36,1.46),(1.38,1.48),(1.40,1.46),(1.42,1.50),(1.44,1.48),(1.46,1.52),(1.48,1.50),(1.50,1.53),(1.12,1.62),(1.16,1.60),(1.20,1.35),(1.08,1.30),(1.09,0.22),(1.10,0.15)]
SMC_P21_OBS = [(0.98,1.85),(1.02,1.78),(1.06,1.70),(1.10,1.65),(1.14,1.58),(1.18,1.62),(1.22,1.55),(1.26,1.60),(1.30,1.52),(1.34,1.56),(1.38,1.50),(1.42,1.55),(1.46,1.48),(1.50,1.52),(1.55,1.45),(1.60,1.50),(1.65,1.48),(1.68,0.45),(1.05,0.22),(1.12,1.30),(1.24,1.38),(0.95,1.45)]
SMC_P21_FLD = [(0.52,1.38),(0.53,1.45),(0.54,1.32),(0.55,1.50),(0.56,1.40),(0.57,1.28),(0.58,1.47),(0.59,1.35),(0.60,1.55),(0.61,1.42),(0.62,1.30),(0.63,1.50),(0.64,1.38),(0.65,1.58),(0.66,1.44),(0.67,1.33),(0.68,1.52),(0.70,1.40),(0.72,1.56),(0.74,1.36),(0.76,1.60),(0.78,1.32),(0.80,1.62),(0.55,1.22),(0.58,1.62),(0.60,1.20),(0.63,1.65),(0.66,1.25),(0.53,1.58),(0.69,1.28),(0.85,1.38),(0.92,1.42),(1.00,1.40),(1.08,1.52),(1.15,1.45),(1.22,1.58),(1.30,1.44),(1.38,1.55),(1.45,1.42),(1.52,1.48),(1.60,1.44),(1.67,1.50),(1.25,1.28),(0.57,1.70),
               (0.53,1.35),(0.54,1.42),(0.55,1.38),(0.56,1.46),(0.57,1.35),(0.58,1.42),(0.59,1.50),(0.60,1.38),(0.61,1.48),(0.62,1.40),(0.63,1.35),(0.64,1.45),(0.65,1.40),(0.66,1.50),(0.67,1.42),(0.68,1.38),(0.69,1.46),(0.70,1.50),(0.71,1.35),(0.73,1.44),(0.75,1.38),(0.77,1.50),(0.79,1.42),(0.82,1.35),(0.56,1.60),(0.60,1.28),(0.64,1.55),(0.52,1.48),(0.58,1.32),(0.62,1.57)]

SMC_P31_CAN = [(0.799,2.344),(0.826,2.414),(0.863,2.460),(0.906,2.460),(0.943,2.460),(0.910,2.214),(0.931,2.214),(0.951,2.353),(0.955,2.214),(0.775,2.065),(0.802,2.102),(0.834,2.102),(0.866,2.028),(0.746,1.833),(0.722,1.716),(0.751,1.716),(0.778,1.716),(0.783,1.856),(0.810,1.870),(0.837,1.856),(0.842,1.716),(0.810,1.716),(0.853,1.702),(0.698,1.623),(0.911,1.623),(0.947,1.609),(0.943,1.716),(0.963,1.763),(0.992,1.949),(1.011,2.158),(1.027,2.088),(0.878,1.149),(0.882,1.019),(0.853,0.963),(0.918,0.963),(1.011,0.963),(1.078,0.986),(1.003,1.228),(1.040,1.228),(1.067,1.298),(1.099,1.205),(1.143,1.265),(1.152,1.367),(1.168,1.274),(1.191,1.219),(0.95,2.85),(0.92,2.72),(0.90,2.60),(0.87,2.55),(0.97,2.70),(0.99,2.62),(0.93,2.50),(1.00,2.80)]
SMC_P31_NON = [(1.030,2.353),(0.995,2.181),(1.014,2.149),(0.943,1.809),(0.927,1.516),(0.963,1.484),(1.051,1.088),(1.083,1.298),(1.091,1.423),(1.115,1.400),(1.131,1.144),(1.139,1.274),(1.123,1.228),(1.155,1.437),(1.163,1.391),(1.171,1.391),(1.183,1.926),(1.196,1.926),(1.188,1.460),(1.212,1.391),(1.220,1.926),(1.228,1.670),(1.244,1.963),(1.252,1.693),(1.268,1.670),(1.276,1.484),(1.284,1.972),(1.297,1.577),(1.308,1.926),(1.313,1.800),(1.324,1.786),(1.332,2.158),(1.340,2.019),(1.348,1.963),(1.351,1.647),(1.361,1.693),(1.372,1.809),(1.380,1.730),(1.388,1.809),(1.404,1.926),(1.412,2.065),(1.417,1.842),(1.429,1.926),(1.453,1.963),(1.469,2.088),(1.493,2.158),(1.501,2.260),(1.155,1.181),(1.107,1.158),(1.220,1.647),(1.236,1.553),(1.300,1.809),(1.207,1.414),(1.03,2.97),(1.05,2.88),(1.00,2.75),(1.04,2.62)]
SMC_P31_OBS = [(0.906,2.391),(1.059,2.484),(1.099,2.437),(1.204,2.321),(1.167,2.181),(1.099,2.042),(1.212,2.042),(1.255,2.019),(1.316,2.065),(1.404,1.972),(1.461,2.065),(1.525,2.158),(1.509,1.879),(1.589,1.926),(1.629,1.809),(1.565,2.135),(1.680,2.042),(0.842,1.019),(0.906,1.251),(0.955,1.237),(0.979,1.144),(1.027,1.205),(1.051,1.763),(1.099,1.902),(1.131,1.763),(1.083,1.530),(1.123,1.647),(1.171,1.670),(1.212,1.833),(1.236,1.740),(1.284,1.740),(1.348,1.553),(1.316,1.647),(1.445,1.740),(1.477,1.647),(1.043,1.135),(1.091,1.065),(1.123,1.042),(1.281,1.228),(1.204,1.144),(1.621,1.033),(1.139,1.553),(1.188,1.600),(1.02,2.95),(1.05,2.85),(1.10,2.70),(1.12,2.60),(1.07,2.55)]
SMC_P31_FLD = [(0.61,1.88),(0.61,1.74),(0.61,1.60),(0.62,1.46),(0.63,1.97),(0.63,1.81),(0.64,1.67),(0.65,1.53),(0.66,1.37),(0.67,1.88),(0.67,1.74),(0.68,1.60),(0.69,1.46),(0.70,2.00),(0.71,1.79),(0.71,1.67),(0.72,1.55),(0.73,1.41),(0.74,1.93),(0.75,1.60),(0.77,1.46),(0.79,1.97),(0.80,1.55),(0.82,1.79),(0.83,1.39),(0.85,2.02),(0.87,1.60),(0.88,1.86),(0.89,1.46),(0.64,2.09),(0.68,2.07),(0.63,1.32),(0.67,1.30),(0.96,1.97),(1.03,1.60),(1.09,1.69),(1.16,1.88),(1.24,1.88),(1.32,1.46),(1.38,1.55),(1.45,1.83),(1.51,1.60),(1.57,1.97),(1.61,1.69),(1.48,2.34),
               (0.60,1.70),(0.62,1.55),(0.62,1.90),(0.64,1.75),(0.65,1.62),(0.66,1.95),(0.68,1.80),(0.69,1.52),(0.70,1.70),(0.72,1.85),(0.73,1.62),(0.74,1.75),(0.76,1.68),(0.78,1.80),(0.80,1.66),(0.81,1.48),(0.83,1.70),(0.86,1.75),(0.65,1.45),(0.60,1.52)]

PANELS = {
    (0, 0): (GAL_R21_FLD, GAL_R21_OBS, GAL_R21_CAN, GAL_R21_NON),
    (0, 1): (GAL_R31_FLD, GAL_R31_OBS, GAL_R31_CAN, GAL_R31_NON),
    (0, 2): (GAL_P21_FLD, GAL_P21_OBS, GAL_P21_CAN, GAL_P21_NON),
    (0, 3): (GAL_P31_FLD, GAL_P31_OBS, GAL_P31_CAN, GAL_P31_NON),
    (1, 0): (LMC_R21_FLD, LMC_R21_OBS, LMC_R21_CAN, LMC_R21_NON),
    (1, 1): (LMC_R31_FLD, LMC_R31_OBS, LMC_R31_CAN, LMC_R31_NON),
    (1, 2): (LMC_P21_FLD, LMC_P21_OBS, LMC_P21_CAN, LMC_P21_NON),
    (1, 3): (LMC_P31_FLD, LMC_P31_OBS, LMC_P31_CAN, LMC_P31_NON),
    (2, 0): (SMC_R21_FLD, SMC_R21_OBS, SMC_R21_CAN, SMC_R21_NON),
    (2, 1): (SMC_R31_FLD, SMC_R31_OBS, SMC_R31_CAN, SMC_R31_NON),
    (2, 2): (SMC_P21_FLD, SMC_P21_OBS, SMC_P21_CAN, SMC_P21_NON),
    (2, 3): (SMC_P31_FLD, SMC_P31_OBS, SMC_P31_CAN, SMC_P31_NON),
}

BLUE = "#0000ff"
RED = "#ff2200"
FRAME = "#333333"
PI_EXPR = "datum.value == 0 ? '0' : (datum.value == 1 ? 'π' : datum.value + 'π')"


def df(pts):
    return pd.DataFrame(pts, columns=["x", "y"])


def make_panel(c, r):
    fld, obs, can, non = PANELS[(c, r)]
    if r == 3:
        xaxis = alt.Axis(values=X_MAJOR, format=".1f", ticks=False, tickSize=0, domain=False, grid=False,
                         labelFont=FONT, labelFontSize=16, labelFontWeight="bold", labelColor="black",
                         labelPadding=7, title="log(P)", titleFont=FONT, titleFontSize=16,
                         titleFontWeight="bold", titleColor="black", titlePadding=0)
    else:
        xaxis = None
    if c == 0:
        kw = dict(values=Y_MAJOR[r], ticks=False, tickSize=0, domain=False, grid=False,
                  labelFont=FONT, labelFontSize=16, labelFontWeight="bold", labelColor="black",
                  labelPadding=4, title=Y_TITLES[r], titleFont=FONT, titleFontSize=17,
                  titleFontWeight="bold" if r < 2 else "normal", titleColor="black", titlePadding=9)
        if r < 2:
            kw["format"] = ".1f"
        else:
            kw["labelExpr"] = PI_EXPR
        yaxis = alt.Axis(**kw)
    else:
        yaxis = None

    def X():
        return alt.X("x:Q", scale=alt.Scale(domain=X_DOMAIN, nice=False, zero=False), axis=xaxis)

    def Y():
        return alt.Y("y:Q", scale=alt.Scale(domain=Y_DOMAINS[r], nice=False, zero=False), axis=yaxis)

    layers = [
        alt.Chart(df(fld)).mark_circle(size=4, color="#333333", opacity=1, clip=True).encode(x=X(), y=Y()),
        alt.Chart(df(obs)).mark_point(shape="diamond", size=46, filled=False, color="#8c8c8c",
                                      strokeWidth=1, opacity=1, clip=True).encode(x=X(), y=Y()),
        alt.Chart(df(can)).mark_circle(size=26, color=BLUE, opacity=1, clip=True).encode(x=X(), y=Y()),
        alt.Chart(df(non)).mark_circle(size=26, color=RED, opacity=1, clip=True).encode(x=X(), y=Y()),
    ]
    # inward ticks on all four sides
    for vals, L in ((X_MAJOR, 4), (X_MINOR, 4)):
        t = pd.DataFrame({"x": vals})
        layers.append(alt.Chart(t).mark_rule(color=FRAME, strokeWidth=1).encode(
            x=X(), y=alt.value(0), y2=alt.value(L)))
        layers.append(alt.Chart(t).mark_rule(color=FRAME, strokeWidth=1).encode(
            x=X(), y=alt.value(H), y2=alt.value(H - L)))
    for vals, L in ((Y_MAJOR[r], 6), (Y_MINOR[r], 3)):
        if not vals:
            continue
        t = pd.DataFrame({"y": vals})
        layers.append(alt.Chart(t).mark_rule(color=FRAME, strokeWidth=1).encode(
            y=Y(), x=alt.value(0), x2=alt.value(L)))
        layers.append(alt.Chart(t).mark_rule(color=FRAME, strokeWidth=1).encode(
            y=Y(), x=alt.value(W), x2=alt.value(W - L)))

    if (c, r) == (1, 1):
        one = pd.DataFrame({"a": [0]})
        layers.append(alt.Chart(one).mark_rect(fill="white", stroke="#999999", strokeWidth=1).encode(
            x=alt.value(123), x2=alt.value(242), y=alt.value(14), y2=alt.value(57)))
        ys = [23, 37, 51]
        for i, lab in enumerate(LEGEND_LABELS):
            layers.append(alt.Chart(one).mark_text(text=lab, font=FONT, fontSize=13, fontWeight="bold",
                                                   align="center", baseline="middle", color="black").encode(
                x=alt.value(173), y=alt.value(ys[i])))
        layers.append(alt.Chart(one).mark_point(shape="diamond", size=46, filled=False, color="#555555",
                                                strokeWidth=1, opacity=1).encode(
            x=alt.value(229), y=alt.value(ys[0])))
        layers.append(alt.Chart(one).mark_circle(size=26, color=BLUE, opacity=1).encode(
            x=alt.value(229), y=alt.value(ys[1])))
        layers.append(alt.Chart(one).mark_circle(size=26, color=RED, opacity=1).encode(
            x=alt.value(229), y=alt.value(ys[2])))

    props = dict(width=W, height=H)
    if r == 0:
        props["title"] = alt.TitleParams(text=COLS[c], font=FONT, fontSize=19, fontWeight="bold",
                                         color="black", anchor="middle", offset=5)
    return alt.layer(*layers).properties(**props)


panels = [make_panel(c, r) for r in range(4) for c in range(3)]

chart = alt.concat(*panels, columns=3, spacing=0, bounds="flush").properties(
    padding={"left": 8, "top": 8, "right": 5, "bottom": 5}
).configure_view(stroke=FRAME, strokeWidth=1).configure(background="white")

chart.save("out.html", embed_options={"renderer": "svg", "actions": False})
